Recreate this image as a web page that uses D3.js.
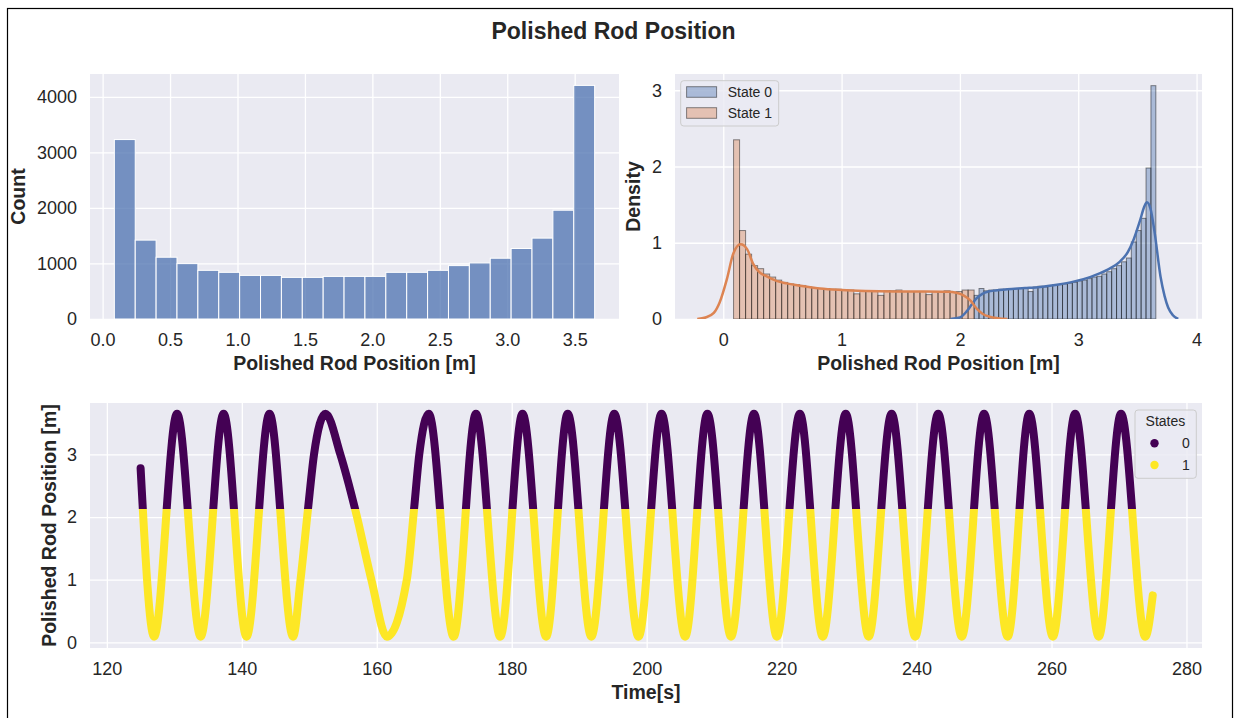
<!DOCTYPE html>
<html>
<head>
<meta charset="utf-8">
<script src="https://cdn.jsdelivr.net/npm/d3@7"></script>
<style>
  html, body { margin: 0; padding: 0; background: #ffffff; }
  svg { display: block; font-family: "Liberation Sans", Arial, "DejaVu Sans", sans-serif; }
</style>
</head>
<body>
<svg id="fig" width="1234" height="718"></svg>
<script>
// ---------- data ----------
// Overall polished rod position histogram (equal-width bins over posRange)
const posRange = [0.087, 3.648];
const posCounts = [3230, 1420, 1112, 997, 876, 840, 785, 785, 749, 749, 767, 767, 767,
                   840, 840, 876, 961, 1009, 1094, 1269, 1456, 1958, 4205];

// Density histograms per state (equal-width bins over each range)
const state1Range = [0.087, 2.12];
const state1Density = [2.35, 1.16, 0.85, 0.70, 0.66, 0.59, 0.55, 0.51, 0.48, 0.46,
                       0.45, 0.44, 0.42, 0.41, 0.40, 0.40, 0.39, 0.39, 0.38, 0.38,
                       0.33, 0.37, 0.37, 0.36, 0.31, 0.37, 0.37, 0.38, 0.36, 0.36,
                       0.36, 0.36, 0.32, 0.36, 0.36, 0.37, 0.35, 0.36, 0.38, 0.38];
const state0Range = [2.12, 3.656];
const state0Density = [0.31, 0.40, 0.37, 0.38, 0.38, 0.39, 0.39, 0.39, 0.40, 0.40,
                       0.41, 0.36, 0.42, 0.43, 0.42, 0.44, 0.45, 0.45, 0.46, 0.47,
                       0.48, 0.50, 0.51, 0.53, 0.55, 0.56, 0.59, 0.62, 0.66, 0.70,
                       0.75, 0.80, 1.01, 1.16, 1.32, 1.98, 3.06];

// Kernel density estimates per state
const state1KdeX = [-0.22, -0.15, -0.08, -0.03, 0.03, 0.085, 0.147, 0.20, 0.254, 0.30, 0.367,
                    0.45, 0.536, 0.68, 0.817, 1.00, 1.20, 1.45, 1.70, 1.90, 1.97, 2.03,
                    2.09, 2.14, 2.19, 2.25, 2.32, 2.40];
const state1KdeY = [0.0, 0.02, 0.08, 0.22, 0.52, 0.86, 0.98, 0.92, 0.72, 0.62, 0.56,
                    0.50, 0.467, 0.43, 0.40, 0.38, 0.368, 0.362, 0.361, 0.358, 0.345, 0.31,
                    0.24, 0.14, 0.07, 0.03, 0.01, 0.0];
const state0KdeX = [1.92, 2.0, 2.057, 2.10, 2.14, 2.19, 2.24, 2.30, 2.40, 2.55, 2.68, 2.82,
                    2.96, 3.10, 3.24, 3.35, 3.42, 3.47, 3.52, 3.56, 3.58, 3.61, 3.647,
                    3.696, 3.73, 3.76, 3.80, 3.845];
const state0KdeY = [0.0, 0.02, 0.10, 0.19, 0.27, 0.33, 0.36, 0.375, 0.39, 0.405, 0.42, 0.45,
                    0.49, 0.55, 0.64, 0.75, 0.88, 1.05, 1.28, 1.48, 1.53, 1.45, 1.12,
                    0.55, 0.30, 0.15, 0.05, 0.0];

// Polished rod position over time (stroke turning points and shape points)
const timeS = [125.0, 127.0, 130.4, 133.9, 137.3, 140.7, 144.1, 147.6, 148.7, 149.8, 150.7,
               152.4, 154.6, 156.85, 159.2, 161.5, 164.45, 165.5, 166.3, 167.7, 171.4,
               174.7, 178.3, 181.6, 185.1, 188.3, 191.8, 195.2, 198.8, 202.2, 205.7,
               209.0, 212.5, 215.9, 219.3, 222.7, 226.1, 229.5, 232.9, 236.3, 239.8,
               243.2, 246.7, 250.0, 253.5, 256.7, 260.2, 263.5, 267.0, 270.3, 273.9, 275.0];
const rodPos = [2.78, 0.09, 3.65, 0.09, 3.65, 0.09, 3.65, 0.09, 1.0, 2.12, 3.0,
                3.65, 3.0, 2.1, 1.0, 0.09, 1.0, 2.1, 3.0, 3.65, 0.09,
                3.65, 0.09, 3.65, 0.09, 3.65, 0.09, 3.65, 0.09, 3.65, 0.09,
                3.65, 0.09, 3.65, 0.09, 3.65, 0.09, 3.65, 0.09, 3.65, 0.09,
                3.65, 0.09, 3.65, 0.09, 3.65, 0.09, 3.65, 0.09, 3.65, 0.09, 0.75];
// Position separating state 0 (upper stroke) from state 1 (lower stroke)
const stateThreshold = 2.13;

// Labels and ticks
const stateNames = ["State 0", "State 1"];
const stateCodes = ["0", "1"];
const countTicks = [0, 1000, 2000, 3000, 4000];
const posTicks = [0.0, 0.5, 1.0, 1.5, 2.0, 2.5, 3.0, 3.5];
const densityTicks = [0, 1, 2, 3];
const densityPosTicks = [0, 1, 2, 3, 4];
const rodTicks = [0, 1, 2, 3];
const timeTicks = [120, 140, 160, 180, 200, 220, 240, 260, 280];

// ---------- style ----------
const BG = "#EAEAF2", INK = "#262626";
const BLUE = "#4C72B0", ORANGE = "#DD8452";
const VIRIDIS0 = "#440154", VIRIDIS1 = "#FDE725";
const TICK_FS = 18, LABEL_FS = 19.5;

const svg = d3.select("#fig");

// figure frame
svg.append("rect").attr("x", 7.5).attr("y", 8.5).attr("width", 1225).attr("height", 730)
  .attr("fill", "none").attr("stroke", "#000").attr("stroke-width", 1.2);

svg.append("text").attr("x", 613.5).attr("y", 39.3).attr("text-anchor", "middle")
  .attr("font-size", 23).attr("font-weight", "bold").attr("fill", INK)
  .text("Polished Rod Position");

// Draws background, grid and tick labels for one axes
function frame(x, y, xt, yt, xfmt, yfmt) {
  const [x0, x1] = x.range(), [yb, yt0] = y.range();
  const g = svg.append("g");
  g.append("rect").attr("x", x0).attr("y", yt0).attr("width", x1 - x0).attr("height", yb - yt0)
    .attr("fill", BG);
  const ax = g.append("g").attr("transform", `translate(0,${yb})`)
    .call(d3.axisBottom(x).tickValues(xt).tickFormat(xfmt).tickSize(-(yb - yt0)).tickPadding(14.7));
  const ay = g.append("g").attr("transform", `translate(${x0},0)`)
    .call(d3.axisLeft(y).tickValues(yt).tickFormat(yfmt).tickSize(-(x1 - x0)).tickPadding(13));
  [ax, ay].forEach(a => {
    a.select(".domain").remove();
    a.selectAll("line").attr("stroke", "#ffffff").attr("stroke-width", 1.3);
    a.selectAll("text").attr("font-size", TICK_FS).attr("fill", INK)
      .attr("font-family", "'Liberation Sans', Arial, sans-serif");
  });
  return g;
}
function xLabel(text, cx, baseline) {
  svg.append("text").attr("x", cx).attr("y", baseline).attr("text-anchor", "middle")
    .attr("font-size", LABEL_FS).attr("font-weight", "bold").attr("fill", INK).text(text);
}
function yLabel(text, bx, cy) {
  svg.append("text").attr("transform", `translate(${bx},${cy}) rotate(-90)`)
    .attr("text-anchor", "middle").attr("font-size", LABEL_FS).attr("font-weight", "bold")
    .attr("fill", INK).text(text);
}
function binEdges(range, n) {
  const w = (range[1] - range[0]) / n;
  return d3.range(n).map(i => [range[0] + i * w, range[0] + (i + 1) * w]);
}

// ---------- top left: count histogram ----------
{
  const x = d3.scaleLinear().domain([-0.0935, 3.8285]).range([90, 619]);
  const y = d3.scaleLinear().domain([0, 4410]).range([319, 74]);
  frame(x, y, posTicks, countTicks, d3.format(".1f"), d3.format("d"));
  const edges = binEdges(posRange, posCounts.length);
  svg.append("g").selectAll("rect").data(posCounts).join("rect")
    .attr("x", (d, i) => x(edges[i][0])).attr("width", (d, i) => x(edges[i][1]) - x(edges[i][0]))
    .attr("y", d => y(d)).attr("height", d => y(0) - y(d))
    .attr("fill", BLUE).attr("fill-opacity", 0.75)
    .attr("stroke", "#ffffff").attr("stroke-width", 1);
  xLabel("Polished Rod Position [m]", 354.5, 370);
  yLabel("Count", 25, 196.5);
}

// ---------- top right: density per state ----------
{
  const x = d3.scaleLinear().domain([-0.408, 4.046]).range([675, 1202]);
  const y = d3.scaleLinear().domain([0, 3.213]).range([319, 74]);
  frame(x, y, densityPosTicks, densityTicks, d3.format("d"), d3.format("d"));
  const clip = svg.append("clipPath").attr("id", "clipTR");
  clip.append("rect").attr("x", 675).attr("y", 74).attr("width", 527).attr("height", 245);
  const layer = svg.append("g").attr("clip-path", "url(#clipTR)");
  const hist = (vals, range, color) => {
    const edges = binEdges(range, vals.length);
    layer.append("g").selectAll("rect").data(vals).join("rect")
      .attr("x", (d, i) => x(edges[i][0])).attr("width", (d, i) => x(edges[i][1]) - x(edges[i][0]))
      .attr("y", d => y(d)).attr("height", d => y(0) - y(d))
      .attr("fill", color).attr("fill-opacity", 0.4)
      .attr("stroke", "#000").attr("stroke-opacity", 0.45).attr("stroke-width", 1);
  };
  hist(state0Density, state0Range, BLUE);
  hist(state1Density, state1Range, ORANGE);
  const kde = d3.line().x(d => x(d[0])).y(d => y(d[1])).curve(d3.curveMonotoneX);
  layer.append("path").attr("d", kde(d3.zip(state0KdeX, state0KdeY)))
    .attr("fill", "none").attr("stroke", BLUE).attr("stroke-width", 2.5);
  layer.append("path").attr("d", kde(d3.zip(state1KdeX, state1KdeY)))
    .attr("fill", "none").attr("stroke", ORANGE).attr("stroke-width", 2.5);

  // legend
  const lg = svg.append("g");
  lg.append("rect").attr("x", 680.7).attr("y", 80.7).attr("width", 98).attr("height", 45.3)
    .attr("rx", 3).attr("fill", BG).attr("fill-opacity", 0.8)
    .attr("stroke", "#cccccc").attr("stroke-width", 1);
  [BLUE, ORANGE].forEach((c, i) => {
    lg.append("rect").attr("x", 686.6).attr("y", 86.7 + i * 21).attr("width", 30).attr("height", 10.6)
      .attr("fill", c).attr("fill-opacity", 0.4)
      .attr("stroke", "#000").attr("stroke-opacity", 0.45).attr("stroke-width", 1);
    lg.append("text").attr("x", 727.7).attr("y", 96.7 + i * 21)
      .attr("font-size", 14).attr("fill", INK).text(stateNames[i]);
  });
  xLabel("Polished Rod Position [m]", 938.5, 370);
  yLabel("Density", 640, 196.5);
}

// ---------- bottom: position over time, coloured by state ----------
{
  const x = d3.scaleLinear().domain([117.5, 282.3]).range([90, 1202]);
  const y = d3.scaleLinear().domain([-0.09, 3.82]).range([648, 403]);
  frame(x, y, timeTicks, rodTicks, d3.format("d"), d3.format("d"));
  const yCut = y(stateThreshold);
  const defs = svg.append("defs");
  defs.append("clipPath").attr("id", "clipUpper")
    .append("rect").attr("x", 0).attr("y", 0).attr("width", 1234).attr("height", yCut);
  defs.append("clipPath").attr("id", "clipLower")
    .append("rect").attr("x", 0).attr("y", yCut).attr("width", 1234).attr("height", 718 - yCut);
  const trace = d3.line().x(d => x(d[0])).y(d => y(d[1])).curve(d3.curveMonotoneX);
  const pathD = trace(d3.zip(timeS, rodPos));
  svg.append("path").attr("d", pathD).attr("clip-path", "url(#clipLower)")
    .attr("fill", "none").attr("stroke", VIRIDIS1).attr("stroke-width", 8)
    .attr("stroke-linecap", "round").attr("stroke-linejoin", "round");
  svg.append("path").attr("d", pathD).attr("clip-path", "url(#clipUpper)")
    .attr("fill", "none").attr("stroke", VIRIDIS0).attr("stroke-width", 8)
    .attr("stroke-linecap", "round").attr("stroke-linejoin", "round");

  // legend
  const lg = svg.append("g");
  lg.append("rect").attr("x", 1135).attr("y", 410).attr("width", 61.3).attr("height", 68.3)
    .attr("rx", 3).attr("fill", BG).attr("fill-opacity", 0.8)
    .attr("stroke", "#cccccc").attr("stroke-width", 1);
  lg.append("text").attr("x", 1165.4).attr("y", 426).attr("text-anchor", "middle")
    .attr("font-size", 14).attr("fill", INK).text("States");
  [VIRIDIS0, VIRIDIS1].forEach((c, i) => {
    lg.append("circle").attr("cx", 1154.5).attr("cy", 443.3 + i * 21.7).attr("r", 4.2).attr("fill", c);
    lg.append("text").attr("x", 1182).attr("y", 448.3 + i * 21.7)
      .attr("font-size", 14).attr("fill", INK).text(stateCodes[i]);
  });
  xLabel("Time[s]", 646, 699);
  yLabel("Polished Rod Position [m]", 56, 525.5);
}
</script>
</body>
</html>
